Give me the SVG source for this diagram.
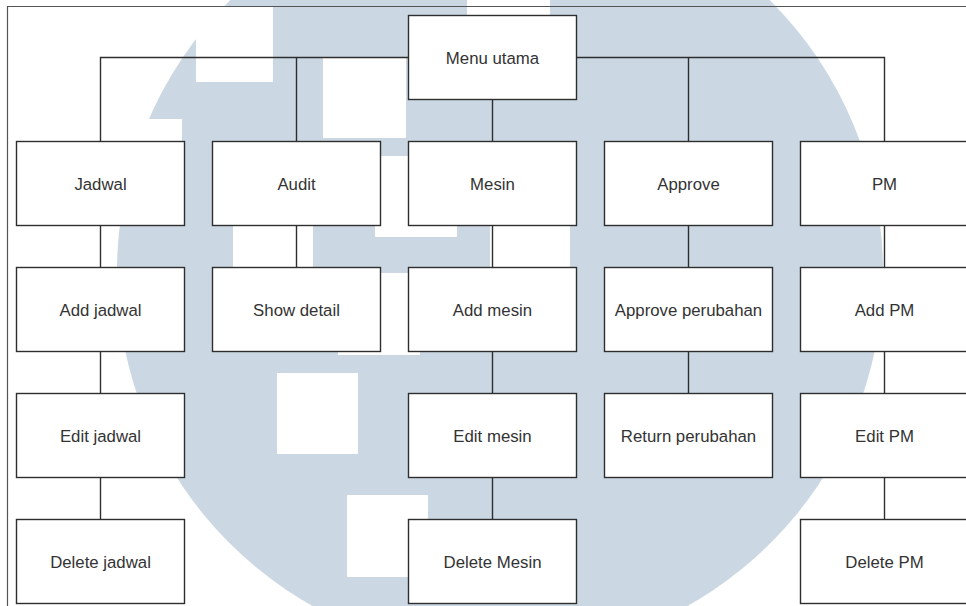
<svg xmlns="http://www.w3.org/2000/svg" width="966" height="606" viewBox="0 0 966 606">
<style>
.box{fill:#ffffff;stroke:#2e2e2e;stroke-width:1.4}
.lbl{font-family:"Liberation Sans",Arial,Helvetica,sans-serif;font-size:16.8px;fill:#333333;text-anchor:middle}
.wm{fill:#cbd8e3}
.hole{fill:#ffffff}
.conn path{fill:none;stroke:#2e2e2e;stroke-width:1.4}
</style>
<rect x="0" y="0" width="966" height="606" fill="#ffffff"/>
<g id="watermark">
<circle class="wm" cx="500" cy="272" r="383"/>
<rect class="hole" x="196" y="6.5" width="77" height="75.5"/>
<rect class="hole" x="467" y="-20" width="83" height="82"/>
<rect class="hole" x="323" y="58" width="83" height="80"/>
<rect class="hole" x="90" y="119" width="92" height="81"/>
<rect class="hole" x="375" y="156" width="82" height="81"/>
<rect class="hole" x="233" y="186" width="80" height="81"/>
<rect class="hole" x="490" y="186" width="80" height="81"/>
<rect class="hole" x="338" y="273" width="82" height="82"/>
<rect class="hole" x="277" y="373" width="81" height="81"/>
<rect class="hole" x="347" y="495" width="81" height="82"/>
</g>
<g id="frame">
<path d="M7.5 620 V6.5 H980" fill="none" stroke="#555555" stroke-width="1.2"/>
</g>
<g class="conn" id="connectors">
<path d="M408.5 57.5 H100.5 V141.5"/>
<path d="M296.5 57.5 V141.5"/>
<path d="M576.5 57.5 H884.5 V141.5"/>
<path d="M688.5 57.5 V141.5"/>
<path d="M492.5 99.5 V141.5"/>
<path d="M100.5 225.5 V267.5"/>
<path d="M100.5 351.5 V393.5"/>
<path d="M100.5 477.5 V519.5"/>
<path d="M296.5 225.5 V267.5"/>
<path d="M492.5 225.5 V267.5"/>
<path d="M492.5 351.5 V393.5"/>
<path d="M492.5 477.5 V519.5"/>
<path d="M688.5 225.5 V267.5"/>
<path d="M688.5 351.5 V393.5"/>
<path d="M884.5 225.5 V267.5"/>
<path d="M884.5 351.5 V393.5"/>
<path d="M884.5 477.5 V519.5"/>
</g>
<g id="menu-utama"><rect class="box" x="408.5" y="15.5" width="168" height="84"/><text class="lbl" x="492.5" y="63.5">Menu utama</text></g>
<g id="jadwal"><rect class="box" x="16.5" y="141.5" width="168" height="84"/><text class="lbl" x="100.5" y="189.5">Jadwal</text></g>
<g id="audit"><rect class="box" x="212.5" y="141.5" width="168" height="84"/><text class="lbl" x="296.5" y="189.5">Audit</text></g>
<g id="mesin"><rect class="box" x="408.5" y="141.5" width="168" height="84"/><text class="lbl" x="492.5" y="189.5">Mesin</text></g>
<g id="approve"><rect class="box" x="604.5" y="141.5" width="168" height="84"/><text class="lbl" x="688.5" y="189.5">Approve</text></g>
<g id="pm"><rect class="box" x="800.5" y="141.5" width="168" height="84"/><text class="lbl" x="884.5" y="189.5">PM</text></g>
<g id="add-jadwal"><rect class="box" x="16.5" y="267.5" width="168" height="84"/><text class="lbl" x="100.5" y="315.5">Add jadwal</text></g>
<g id="show-detail"><rect class="box" x="212.5" y="267.5" width="168" height="84"/><text class="lbl" x="296.5" y="315.5">Show detail</text></g>
<g id="add-mesin"><rect class="box" x="408.5" y="267.5" width="168" height="84"/><text class="lbl" x="492.5" y="315.5">Add mesin</text></g>
<g id="approve-perubahan"><rect class="box" x="604.5" y="267.5" width="168" height="84"/><text class="lbl" x="688.5" y="315.5">Approve perubahan</text></g>
<g id="add-pm"><rect class="box" x="800.5" y="267.5" width="168" height="84"/><text class="lbl" x="884.5" y="315.5">Add PM</text></g>
<g id="edit-jadwal"><rect class="box" x="16.5" y="393.5" width="168" height="84"/><text class="lbl" x="100.5" y="441.5">Edit jadwal</text></g>
<g id="edit-mesin"><rect class="box" x="408.5" y="393.5" width="168" height="84"/><text class="lbl" x="492.5" y="441.5">Edit mesin</text></g>
<g id="return-perubahan"><rect class="box" x="604.5" y="393.5" width="168" height="84"/><text class="lbl" x="688.5" y="441.5">Return perubahan</text></g>
<g id="edit-pm"><rect class="box" x="800.5" y="393.5" width="168" height="84"/><text class="lbl" x="884.5" y="441.5">Edit PM</text></g>
<g id="delete-jadwal"><rect class="box" x="16.5" y="519.5" width="168" height="84"/><text class="lbl" x="100.5" y="567.5">Delete jadwal</text></g>
<g id="delete-mesin"><rect class="box" x="408.5" y="519.5" width="168" height="84"/><text class="lbl" x="492.5" y="567.5">Delete Mesin</text></g>
<g id="delete-pm"><rect class="box" x="800.5" y="519.5" width="168" height="84"/><text class="lbl" x="884.5" y="567.5">Delete PM</text></g>
</svg>
